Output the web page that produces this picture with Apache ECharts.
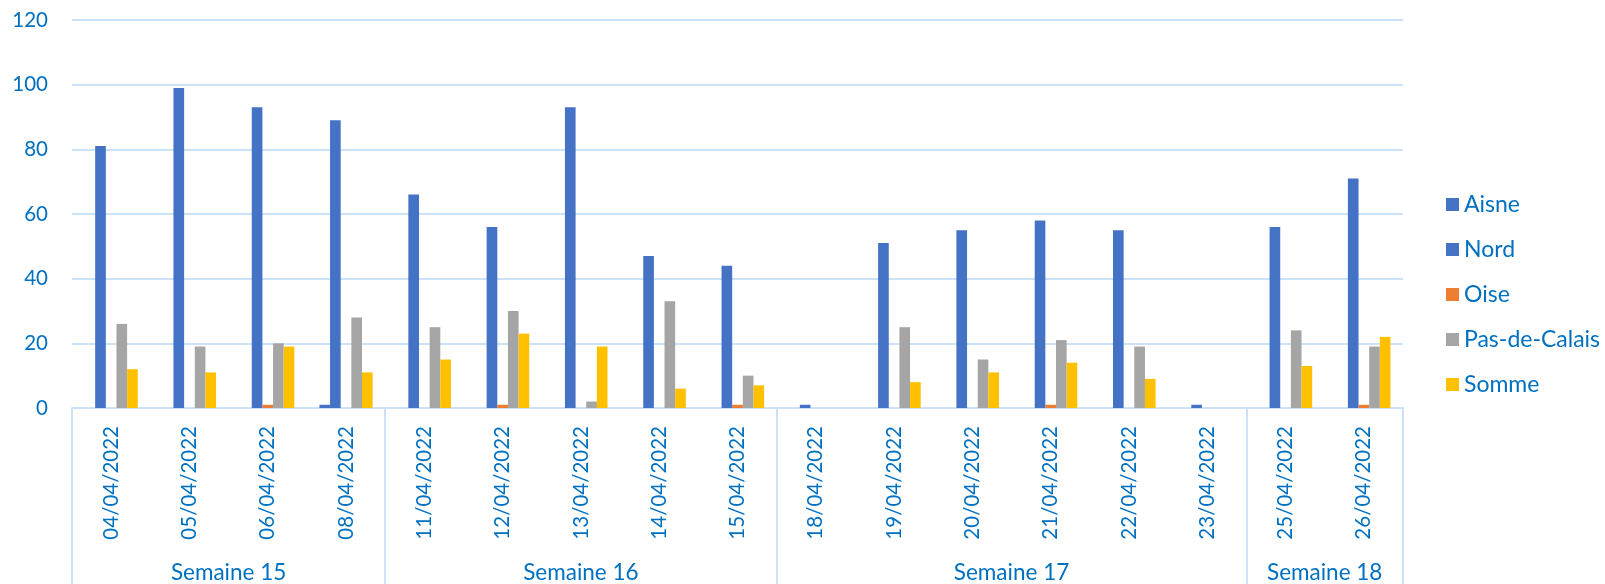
<!DOCTYPE html>
<html lang="fr">
<head>
    <meta charset="UTF-8">
    <title>Semaines 15 - 18</title>
    <script src="https://cdn.jsdelivr.net/npm/echarts@6/dist/echarts.min.js"></script>
</head>
<body style="margin:0;background:#ffffff;">
<div id="chart" style="width:1605px;height:584px;"></div>

<script type="text/javascript">
    // dates (niveau 1) et semaines (niveau 2)
    var dates = ['04/04/2022', '05/04/2022', '06/04/2022', '08/04/2022',
        '11/04/2022', '12/04/2022', '13/04/2022', '14/04/2022', '15/04/2022',
        '18/04/2022', '19/04/2022', '20/04/2022', '21/04/2022', '22/04/2022', '23/04/2022',
        '25/04/2022', '26/04/2022'];
    var weeks = ['Semaine 15', 'Semaine 16', 'Semaine 17', 'Semaine 18'];
    var weekSizes = [4, 5, 6, 2];

    var seriesNames = ['Aisne', 'Nord', 'Oise', 'Pas-de-Calais', 'Somme'];
    var aisne  = [0, 0, 0, 1, 0, 0, 0, 0, 0, 0, 0, 0, 0, 0, 0, 0, 0];
    var nord   = [81, 99, 93, 89, 66, 56, 93, 47, 44, 1, 51, 55, 58, 55, 1, 56, 71];
    var oise   = [0, 0, 1, 0, 0, 1, 0, 0, 1, 0, 0, 0, 1, 0, 0, 0, 1];
    var pdc    = [26, 19, 20, 28, 25, 30, 2, 33, 10, 0, 25, 15, 21, 19, 0, 24, 19];
    var somme  = [12, 11, 19, 11, 15, 23, 19, 6, 7, 0, 8, 11, 14, 9, 0, 13, 22];

    var yMin = 0, yMax = 120, yStep = 20;

    var colors = ['#4472C4', '#4472C4', '#ED7D31', '#A5A5A5', '#FFC000'];
    var txtColor = '#0070C0';
    var lineColor = '#CCE2F8';
    var font = 'Lato';

    // limites et centres des semaines, en unites de categories
    var weekBounds = [0];
    var weekCenters = [];
    var acc = 0;
    for (var i = 0; i < weekSizes.length; i++) {
        weekCenters.push(acc + weekSizes[i] / 2);
        acc += weekSizes[i];
        weekBounds.push(acc);
    }

    var chart = echarts.init(document.getElementById('chart'));

    var allData = [aisne, nord, oise, pdc, somme];
    var series = [];
    for (var s = 0; s < seriesNames.length; s++) {
        series.push({
            name: seriesNames[s],
            type: 'bar',
            xAxisIndex: 0,
            barGap: 0,
            barCategoryGap: '32%',
            itemStyle: {color: colors[s]},
            data: allData[s]
        });
    }

    var option = {
        animation: false,
        textStyle: {fontFamily: font},
        legend: {
            orient: 'vertical',
            left: 1441,
            top: 188,
            itemWidth: 13,
            itemHeight: 13,
            itemGap: 22,
            icon: 'rect',
            data: seriesNames,
            textStyle: {color: txtColor, fontSize: 23, fontFamily: font}
        },
        grid: {
            left: 72,
            right: 202,
            top: 20,
            bottom: 176,
            containLabel: false
        },
        xAxis: [
            {
                type: 'category',
                data: dates,
                axisLine: {lineStyle: {color: lineColor, width: 2}},
                axisTick: {show: false},
                axisLabel: {
                    interval: 0,
                    rotate: 90,
                    margin: 18,
                    color: txtColor,
                    fontSize: 20.5,
                    fontFamily: font
                }
            },
            {
                type: 'value',
                position: 'bottom',
                min: 0,
                max: dates.length,
                axisLine: {show: false},
                splitLine: {show: false},
                axisTick: {
                    show: true,
                    customValues: weekBounds,
                    length: 176,
                    lineStyle: {color: lineColor, width: 2}
                },
                axisLabel: {
                    customValues: weekCenters,
                    margin: 153,
                    color: txtColor,
                    fontSize: 22.5,
                    fontFamily: font,
                    formatter: function (v) {
                        for (var k = 0; k < weekCenters.length; k++) {
                            if (Math.abs(weekCenters[k] - v) < 1e-6) return weeks[k];
                        }
                        return '';
                    }
                }
            }
        ],
        yAxis: {
            type: 'value',
            min: yMin,
            max: yMax,
            interval: yStep,
            axisLine: {show: false},
            axisTick: {show: false},
            splitLine: {lineStyle: {color: lineColor, width: 2}},
            axisLabel: {color: txtColor, fontSize: 20.5, margin: 24, fontFamily: font}
        },
        series: series
    };
    chart.setOption(option);
</script>
</body>
</html>
